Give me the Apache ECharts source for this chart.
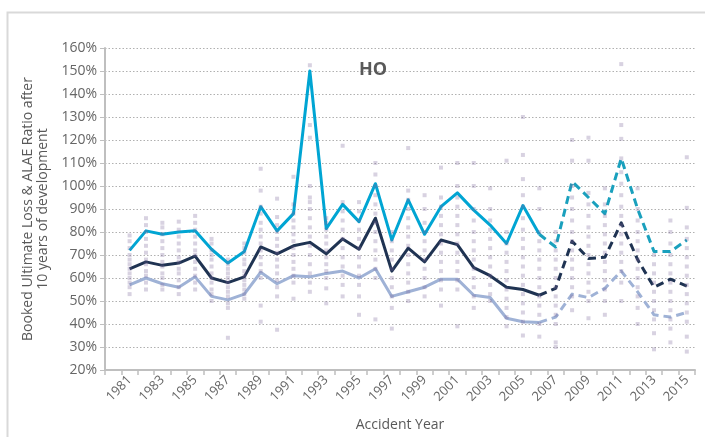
<!DOCTYPE html>
<html>
<head>
<meta charset="utf-8">
<script src="https://cdn.jsdelivr.net/npm/echarts@6/dist/echarts.min.js"></script>
<style>
html,body{margin:0;padding:0;background:#fff;}
#chart{width:705px;height:437px;}
</style>
</head>
<body>
<div id="chart"></div>
<script>
// ---- DATA ----
var years = ['1981','1982','1983','1984','1985','1986','1987','1988','1989','1990',
             '1991','1992','1993','1994','1995','1996','1997','1998','1999','2000',
             '2001','2002','2003','2004','2005','2006','2007','2008','2009','2010',
             '2011','2012','2013','2014','2015'];
var yTicks = [20,30,40,50,60,70,80,90,100,110,120,130,140,150,160];
var lastSolidYear = '2006';

var highLine = [72,80.5,79,80,80.5,72.5,66.5,71.5,91,80.5,88,150,81.5,92,84.5,101,76.5,94,79,91,
                97,89.5,83,75,91.5,79,73.5,102,95,88,112,90,71.5,71.5,76.5];
var midLine  = [64,67,65.5,66.5,69.5,60,58,60.5,73.5,70.5,74,75.5,70.5,77,72.5,86,63,73,67,76.5,
                74.5,64.5,61,56,55,52.5,55.5,76,68.5,69,84,68,56,59.5,56.5];
var lowLine  = [57,60,57.5,56,60.5,52,50.5,53,62.5,57.5,61,60.5,62,63,60,64,52,54,56,59.5,
                59.5,52.5,51.5,42.5,41,40.7,43,53,51.5,55.5,63,54,44,43,45];

var companyPoints = [
  [53,56,58,60,62,64,66,68,70,73,76,78.5],
  [55,58,61,63,66,68,71,74,77,80,83,86],
  [55,57,60,62,65,67,70,73,76,79,82,84],
  [53,56,59,62,64,67,69,72,75,78,81,84.5],
  [55,58,61,64,67,70,72,75,78,81,84,87],
  [50,53,55,58,60,62,65,68,70,72,75,77],
  [34,47,49,52,54,56,58,60,62,64,66,68],
  [51,53,55,57,59,61,63,66,68,71,73,75],
  [41,48,60,63,66,69,72,75,78,81,84,88,91,98,107.5],
  [37.5,52,56,59,62,65,68,71,74,77,80,83,86.5,94.5],
  [51,58,61,64,67,70,73,76,79,82,85,88,92,104],
  [54,58,62,66,70,74,78,82,86,90,93,95,100,121,126.5,152.5],
  [49,55.5,60,63,66,69,72,75,78,81,84,86],
  [52,57,61,65,69,73,77,81,85,89,93,117.5],
  [44,52,57,61,65,69,73,77,81,85,89,93],
  [42,60,64,68,72,76,80,84,88,92,96,100,105,110],
  [38,47,52,56,60,64,68,72,76,80],
  [50,54,58,62,66,70,74,78,82,86,90,94,98,116.5],
  [52,56,60,64,68,72,76,80,84,90,96],
  [48,55,59,63,67,71,75,79,83,87,91,95,108],
  [39,55,59,63,67,71,75,79,83,87,91,95,100,110],
  [47,52,56,60,64,68,72,76,80,85,90,100,110],
  [50,53,57,61,65,69,73,77,81,85,90,99],
  [39,43,47,51,55,59,63,67,71,75,80,111],
  [35,41,45,49,53,57,61,65,69,73,77,81,86,91,96,103,113.5,130],
  [34.5,40,44,48,52,56,60,64,68,72,76,80,90,99],
  [30,32,40,44,48,52,56,60,64,68,72,76,80],
  [46,52,56,60,64,68,72,76,80,85,90,95,100,111,120],
  [42.5,50,54,58,62,66,70,74,78,82,87,92,97,111,121],
  [44,50,55,59,63,67,71,75,79,83,87,92,99],
  [50,58,63,67,71,75,79,83,87,91,96,101,106,112,120.5,126.5,153],
  [40,47,52,56,60,64,68,72,76,80,85,90,99],
  [29,36,42,46,50,54,58,62,66,70],
  [32,38,42,46,50,54,58,62,66,70,75,80,85],
  [28,34.5,41,45,49,53,57,61,65,69,73,77,82,90.5,112.5]
];

// ---- BUILD ----
var cats = [''].concat(years);               // leading empty band
var split = years.indexOf(lastSolidYear);

function solidPart(arr){ return [null].concat(arr.map(function(v,i){ return i<=split ? v : null; })); }
function dashPart(arr){ return [null].concat(arr.map(function(v,i){ return i>=split ? v : null; })); }

var scatterData = [];
companyPoints.forEach(function(list, i){
  list.forEach(function(v){ scatterData.push([years[i], v]); });
});

var FONT = '"Open Sans", "DejaVu Sans", sans-serif';
var cHigh = '#00a5d3', cHighDash = '#1aa0bd', cMid = '#1f3352', cLow = '#9fb2d6';

function lineSeries(data, color, dashed){
  return {
    type:'line', data:data, showSymbol:false, symbol:'none', connectNulls:false,
    lineStyle:{ color:color, width:3, type: dashed ? [8,5] : 'solid', cap:'butt', join:'round' },
    z: 3, animation:false, silent:true
  };
}

var chart = echarts.init(document.getElementById('chart'), null, {renderer:'canvas'});
chart.setOption({
  animation:false,
  backgroundColor:'#ffffff',
  textStyle:{ fontFamily: FONT },
  title:{ text:'HO', left:354, top:56,
          textStyle:{ fontFamily:FONT, fontSize:18, fontWeight:'bold', color:'#595959' } },
  graphic:[{ type:'rect', left:5, top:10, shape:{ width:720, height:450 },
             style:{ fill:'none', stroke:'#d9d9d9', lineWidth:2 }, silent:true, z:-1 }],
  grid:{ left:105, right:10, top:48, bottom:67, containLabel:false },
  xAxis:{
    type:'category', data:cats, boundaryGap:true,
    name:'Accident Year', nameLocation:'middle', nameGap:48,
    nameTextStyle:{ fontFamily:FONT, fontSize:14, color:'#595959' },
    axisLine:{ lineStyle:{ color:'#bfbfbf', width:2 } },
    axisTick:{ show:true, interval:0, length:5, lineStyle:{ color:'#bfbfbf', width:1.5 } },
    axisLabel:{ interval:function(idx){ return idx % 2 === 1; }, rotate:45, margin:8,
                fontFamily:FONT, fontSize:13, color:'#666666' },
    splitLine:{ show:false }
  },
  yAxis:{
    type:'value', min:yTicks[0], max:yTicks[yTicks.length-1], interval:10,
    name:'Booked Ultimate Loss & ALAE Ratio after\n10 years of development',
    nameLocation:'middle', nameGap:54, nameRotate:90,
    nameTextStyle:{ fontFamily:FONT, fontSize:14, color:'#595959', lineHeight:15 },
    axisLine:{ show:true, lineStyle:{ color:'#bfbfbf', width:2 } },
    axisTick:{ show:true, length:5, lineStyle:{ color:'#bfbfbf', width:1 } },
    axisLabel:{ formatter:'{value}%', margin:8, fontFamily:FONT, fontSize:14, color:'#666666' },
    splitLine:{ show:true, lineStyle:{ color:'#b0b0b0', width:1, type:[1.5,2] } }
  },
  series:[
    lineSeries(solidPart(lowLine), cLow, false),
    lineSeries(dashPart(lowLine), cLow, true),
    lineSeries(solidPart(midLine), cMid, false),
    lineSeries(dashPart(midLine), cMid, true),
    lineSeries(solidPart(highLine), cHigh, false),
    lineSeries(dashPart(highLine), cHighDash, true),
    { type:'scatter', data:scatterData, symbol:'rect', symbolSize:4,
      itemStyle:{ color:'rgba(120,100,150,0.36)' }, z:4, silent:true, animation:false }
  ]
});
</script>
</body>
</html>
